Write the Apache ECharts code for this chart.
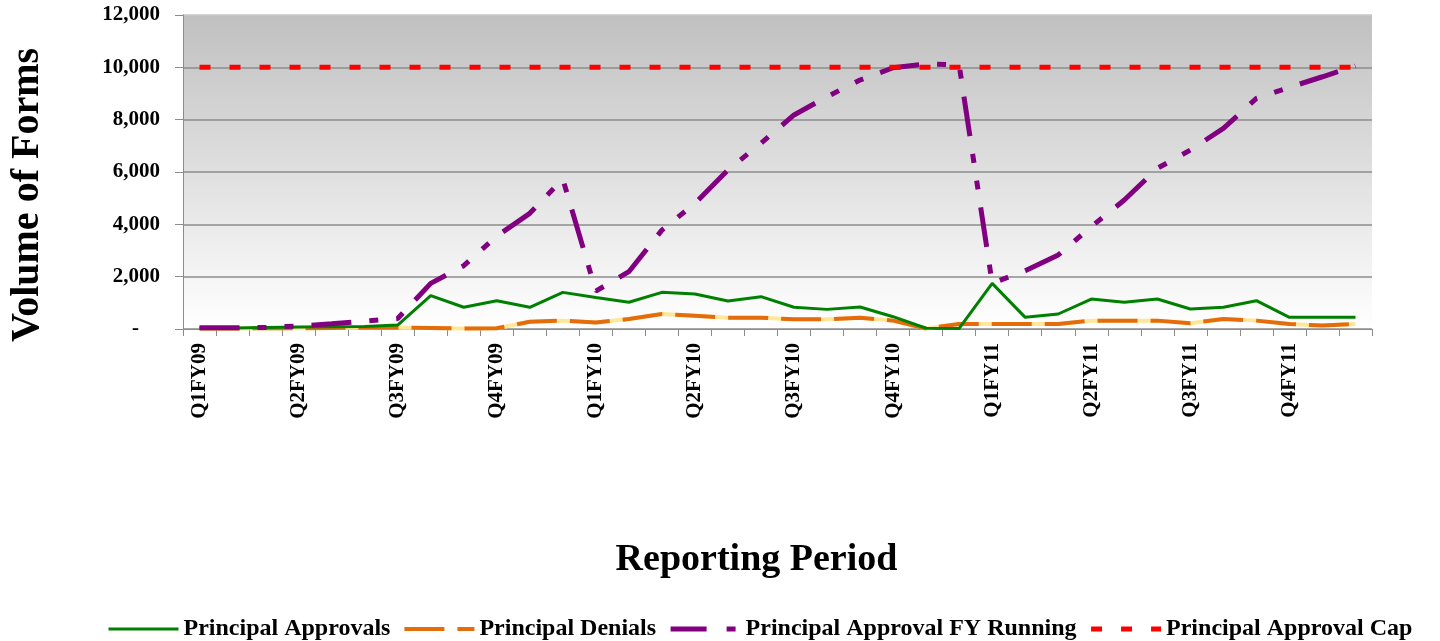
<!DOCTYPE html>
<html>
<head>
<meta charset="utf-8">
<script src="https://cdn.jsdelivr.net/npm/echarts@6/dist/echarts.min.js"></script>
<style>
html,body{margin:0;padding:0;background:#fff;}
#chart{width:1440px;height:641px;}
</style>
</head>
<body>
<div id="chart"></div>
<script>
// Monthly reporting periods (Oct 2008 .. Sep 2011)
const months = [
  'Oct-08','Nov-08','Dec-08','Jan-09','Feb-09','Mar-09','Apr-09','May-09','Jun-09','Jul-09','Aug-09','Sep-09',
  'Oct-09','Nov-09','Dec-09','Jan-10','Feb-10','Mar-10','Apr-10','May-10','Jun-10','Jul-10','Aug-10','Sep-10',
  'Oct-10','Nov-10','Dec-10','Jan-11','Feb-11','Mar-11','Apr-11','May-11','Jun-11','Jul-11','Aug-11','Sep-11'
];
// Quarter tick labels (one per three months)
const quarterLabels = ['Q1FY09','Q2FY09','Q3FY09','Q4FY09','Q1FY10','Q2FY10','Q3FY10','Q4FY10','Q1FY11','Q2FY11','Q3FY11','Q4FY11'];

const principalApprovals = [
  30, 40, 60, 80, 90, 100, 150, 1275, 830, 1080, 830, 1400,
  1200, 1020, 1400, 1340, 1070, 1235, 830, 750, 840, 470, 30, 20,
  1745, 445, 573, 1146, 1020, 1146, 764, 830, 1083, 445, 445, 445
];
const principalDenials = [
  20, 20, 30, 30, 40, 50, 50, 40, 20, 30, 280, 320,
  250, 380, 570, 510, 430, 430, 370, 370, 430, 320, 20, 190,
  190, 190, 190, 320, 320, 320, 220, 380, 320, 190, 130, 190
];
const approvalFYRunning = [
  50, 50, 60, 115, 200, 300, 400, 1745, 2420, 3550, 4420, 5730,
  1450, 2190, 3780, 4800, 6075, 7100, 8180, 8880, 9515, 9985, 10125, 10090,
  1750, 2230, 2830, 3910, 4930, 6140, 6840, 7670, 8810, 9235, 9640, 10050
];
const approvalCap = [
  10000, 10000, 10000, 10000, 10000, 10000, 10000, 10000, 10000, 10000, 10000, 10000,
  10000, 10000, 10000, 10000, 10000, 10000, 10000, 10000, 10000, 10000, 10000, 10000,
  10000, 10000, 10000, 10000, 10000, 10000, 10000, 10000, 10000, 10000, 10000, 10000
];

const FONT = '"Liberation Serif", "Times New Roman", serif';
const purpleDash = [40, 18, 9, 18, 9, 18];
const orangeDash = [40, 13];
const redDash = [11, 19];

const chart = echarts.init(document.getElementById('chart'));
chart.setOption({
  animation: false,
  backgroundColor: '#ffffff',
  grid: {
    left: 183, right: 68, top: 15, bottom: 312,
    show: true,
    borderWidth: 0,
    backgroundColor: new echarts.graphic.LinearGradient(0, 0, 0, 1, [
      { offset: 0, color: '#c0c0c0' },
      { offset: 1, color: '#ffffff' }
    ])
  },
  legend: {
    left: 102,
    top: 612,
    itemWidth: 70,
    itemHeight: 14,
    itemGap: 12,
    itemStyle: { opacity: 0, borderWidth: 0 },
    textStyle: { fontFamily: FONT, fontWeight: 'bold', fontSize: 24, color: '#000' },
    data: [
      { name: 'Principal Approvals', itemStyle: { opacity: 0 }, lineStyle: { width: 3, color: '#008000', type: 'solid' } },
      { name: 'Principal Denials', itemStyle: { opacity: 0 }, lineStyle: { width: 4, color: '#e46c0a', type: orangeDash } },
      { name: 'Principal Approval FY Running', itemStyle: { opacity: 0 }, lineStyle: { width: 5, color: '#800080', type: [36, 20, 9, 20] } },
      { name: 'Principal Approval Cap', itemStyle: { opacity: 0 }, lineStyle: { width: 5, color: '#ff0000', type: redDash } }
    ]
  },
  xAxis: {
    type: 'category',
    data: months,
    boundaryGap: true,
    name: 'Reporting Period',
    nameLocation: 'middle',
    nameGap: 212,
    nameTextStyle: { fontFamily: FONT, fontWeight: 'bold', fontSize: 38, color: '#000', padding: [0, 42, 0, 0] },
    axisLine: { lineStyle: { color: '#8c8c8c', width: 1 } },
    axisTick: { show: true, interval: 0, length: 7, lineStyle: { color: '#8c8c8c' } },
    axisLabel: {
      interval: 2,
      rotate: 90,
      margin: 14,
      fontFamily: FONT, fontWeight: 'bold', fontSize: 21, color: '#000',
      formatter: function (v, i) { return quarterLabels[Math.floor(i / 3)]; }
    },
    splitLine: { show: false }
  },
  yAxis: {
    type: 'value',
    min: 0, max: 12000, interval: 2000,
    name: 'Volume of Forms',
    nameLocation: 'middle',
    nameGap: 135,
    nameTextStyle: { fontFamily: FONT, fontWeight: 'bold', fontSize: 40, color: '#000', padding: [0, 46, 0, 0] },
    axisLine: { show: true, lineStyle: { color: '#8c8c8c', width: 1 } },
    axisTick: { show: true, length: 8, lineStyle: { color: '#8c8c8c' } },
    axisLabel: {
      margin: 23,
      fontFamily: FONT, fontWeight: 'bold', fontSize: 21, color: '#000',
      formatter: function (v) { return v === 0 ? '-    ' : v.toLocaleString('en-US'); }
    },
    splitLine: { show: true, lineStyle: { color: ['#8c8c8c','#8c8c8c','#8c8c8c','#8c8c8c','#8c8c8c','#8c8c8c','#c8c8c8'], width: 1.5 } }
  },
  series: [
    {
      name: 'Principal Approvals', type: 'line', data: principalApprovals,
      symbol: 'none', z: 3,
      lineStyle: { color: '#008000', width: 3 }, itemStyle: { color: '#008000' }
    },
    {
      name: 'denialsBase', type: 'line', data: principalDenials,
      symbol: 'none', z: 2, silent: true,
      lineStyle: { color: '#ffe699', width: 4 }, itemStyle: { color: '#ffe699' }
    },
    {
      name: 'Principal Denials', type: 'line', data: principalDenials,
      symbol: 'none', z: 2,
      lineStyle: { color: '#e46c0a', width: 4, type: orangeDash, cap: 'butt' }, itemStyle: { color: '#e46c0a' }
    },
    {
      name: 'Principal Approval FY Running', type: 'line', data: approvalFYRunning,
      symbol: 'none', z: 4,
      lineStyle: { color: '#800080', width: 5, type: purpleDash, cap: 'butt' }, itemStyle: { color: '#800080' }
    },
    {
      name: 'Principal Approval Cap', type: 'line', data: approvalCap,
      symbol: 'none', z: 5,
      lineStyle: { color: '#ff0000', width: 5, type: redDash, cap: 'butt' }, itemStyle: { color: '#ff0000' }
    }
  ]
});
</script>
</body>
</html>
